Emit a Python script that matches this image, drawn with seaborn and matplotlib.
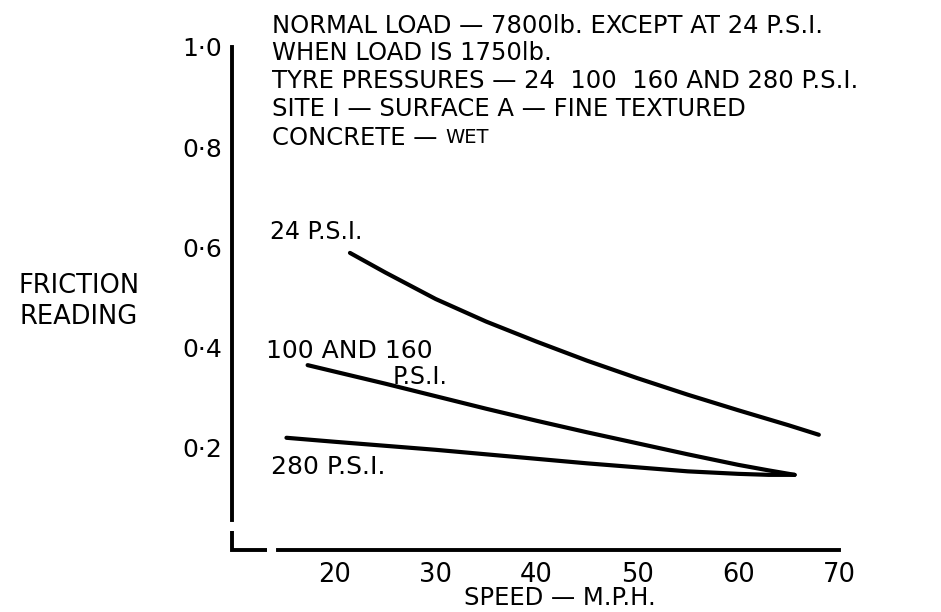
import matplotlib
matplotlib.use("Agg")
import matplotlib.pyplot as plt
import seaborn as sns
import pandas as pd

# Friction reading against speed for three tyre-pressure groups
speed_24 = [21.5, 25, 30, 35, 40, 45, 50, 55, 60, 65, 68]
friction_24 = [0.589, 0.550, 0.497, 0.452, 0.412, 0.374, 0.339, 0.306, 0.275, 0.245, 0.226]

speed_100_160 = [17.3, 20, 25, 30, 35, 40, 45, 50, 55, 60, 63, 65.6]
friction_100_160 = [0.365, 0.352, 0.328, 0.303, 0.278, 0.254, 0.231, 0.209, 0.187, 0.166, 0.155, 0.146]

speed_280 = [15.2, 20, 25, 30, 35, 40, 45, 50, 55, 60, 63, 65.6]
friction_280 = [0.220, 0.212, 0.204, 0.196, 0.187, 0.178, 0.169, 0.161, 0.153, 0.148, 0.146, 0.146]

x_ticks = [20, 30, 40, 50, 60, 70]
x_tick_labels = ["20", "30", "40", "50", "60", "70"]
y_ticks = [0.2, 0.4, 0.6, 0.8, 1.0]
y_tick_labels = ["0·2", "0·4", "0·6", "0·8", "1·0"]

notes = [
    "NORMAL LOAD — 7800lb. EXCEPT AT 24 P.S.I.",
    "WHEN LOAD IS 1750lb.",
    "TYRE PRESSURES — 24  100  160 AND 280 P.S.I.",
    "SITE I — SURFACE A — FINE TEXTURED",
    "CONCRETE —",
]
note_tail = "WET"

df = pd.concat([
    pd.DataFrame({"speed": speed_24, "friction": friction_24, "tyre": "24"}),
    pd.DataFrame({"speed": speed_100_160, "friction": friction_100_160, "tyre": "100/160"}),
    pd.DataFrame({"speed": speed_280, "friction": friction_280, "tyre": "280"}),
])

sns.set_theme(style="white")
plt.rcParams["font.family"] = ["DejaVu Sans"]

W, H = 941, 612
fig = plt.figure(figsize=(W / 100, H / 100), dpi=100)
ax = fig.add_axes([232 / W, 1 - 550 / H, (839 - 232) / W, (550 - 47) / H])

sns.lineplot(data=df, x="speed", y="friction", hue="tyre", units="tyre",
             estimator=None, sort=False,
             palette={"24": "black", "100/160": "black", "280": "black"},
             linewidth=3.0, legend=False, ax=ax,
             solid_capstyle="round", solid_joinstyle="round")

ax.set_xlim(9.8, 70)
ax.set_ylim(-0.004, 1.0)

ax.set_xticks(x_ticks)
ax.set_xticklabels(x_tick_labels)
ax.set_yticks(y_ticks)
ax.set_yticklabels(y_tick_labels)
ax.tick_params(axis="both", direction="in", length=8, width=2.4, color="black",
               labelcolor="black")
ax.tick_params(axis="y", pad=7, labelsize=18)
ax.tick_params(axis="x", pad=9, labelsize=18.5)

for side in ("top", "right"):
    ax.spines[side].set_visible(False)
for side in ("left", "bottom"):
    ax.spines[side].set_color("black")
    ax.spines[side].set_linewidth(2.8)
# broken corner of the axes
ax.spines["left"].set_bounds(0.056, 1.0)
ax.spines["bottom"].set_bounds(14.35, 70)
ax.plot([9.8, 9.8, 13.25], [0.034, -0.004, -0.004], color="black", lw=2.8,
        clip_on=False, solid_capstyle="butt", solid_joinstyle="miter")

ax.set_xlabel("SPEED — M.P.H.", fontsize=17.5, color="black", va="baseline")
ax.xaxis.set_label_coords(0.54, (550 - 605) / 503)
ax.set_ylabel("FRICTION\nREADING", fontsize=18.5, color="black", rotation=0,
              ha="center", va="center", linespacing=1.25)
ax.yaxis.set_label_coords(-0.252, 0.495)

# curve labels
ax.text(13.6, 0.63, "24 P.S.I.", fontsize=17, color="black", va="center")
ax.text(13.2, 0.394, "100 AND 160", fontsize=18, color="black", va="center")
ax.text(25.7, 0.342, "P.S.I.", fontsize=17, color="black", va="center")
ax.text(13.7, 0.161, "280 P.S.I.", fontsize=18, color="black", va="center")

# test-condition notes above the curves
baselines = [33, 60.5, 88.5, 116.5, 144.5]
last = None
for txt, yb in zip(notes, baselines):
    last = fig.text(272 / W, 1 - yb / H, txt, fontsize=17.5, color="black",
                    ha="left", va="baseline")
fig.canvas.draw()
ax.annotate(note_tail, xy=(1, 0), xycoords=last, xytext=(6, 1.5),
            textcoords="offset points", fontsize=14, color="black",
            ha="left", va="bottom")

fig.savefig("out.png", dpi=100, facecolor="white")
